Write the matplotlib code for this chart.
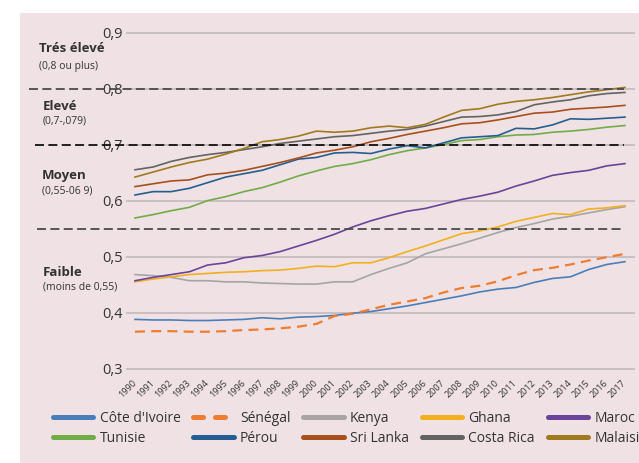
import numpy as np
from matplotlib import pyplot as plt

plt.rcParams['font.family'] = ['Open Sans', 'DejaVu Sans']

years = list(range(1990, 2018))

cote_ivoire = [0.388, 0.387, 0.387, 0.386, 0.386, 0.387, 0.388, 0.391, 0.389, 0.392,
               0.393, 0.395, 0.399, 0.402, 0.407, 0.412, 0.418, 0.424, 0.430, 0.437,
               0.442, 0.445, 0.454, 0.461, 0.464, 0.477, 0.486, 0.491]
senegal = [0.366, 0.367, 0.367, 0.366, 0.366, 0.367, 0.369, 0.370, 0.372, 0.375,
           0.380, 0.394, 0.398, 0.406, 0.414, 0.420, 0.426, 0.436, 0.444, 0.448,
           0.456, 0.467, 0.476, 0.480, 0.486, 0.493, 0.499, 0.505]
kenya = [0.468, 0.466, 0.463, 0.457, 0.457, 0.455, 0.455, 0.453, 0.452, 0.451,
         0.451, 0.455, 0.455, 0.468, 0.479, 0.489, 0.505, 0.514, 0.523, 0.533,
         0.543, 0.552, 0.559, 0.567, 0.572, 0.578, 0.584, 0.589]
ghana = [0.455, 0.460, 0.464, 0.468, 0.470, 0.472, 0.473, 0.475, 0.476, 0.479,
         0.483, 0.482, 0.489, 0.489, 0.498, 0.509, 0.519, 0.530, 0.541, 0.546,
         0.553, 0.563, 0.570, 0.577, 0.575, 0.585, 0.587, 0.591]
maroc = [0.457, 0.463, 0.468, 0.473, 0.485, 0.489, 0.498, 0.502, 0.509, 0.519,
         0.529, 0.540, 0.553, 0.564, 0.573, 0.581, 0.586, 0.594, 0.602, 0.608,
         0.615, 0.626, 0.635, 0.645, 0.650, 0.654, 0.662, 0.666]
tunisie = [0.569, 0.575, 0.582, 0.588, 0.600, 0.607, 0.616, 0.623, 0.633, 0.644,
           0.653, 0.661, 0.666, 0.673, 0.682, 0.689, 0.694, 0.700, 0.707, 0.709,
           0.714, 0.717, 0.718, 0.722, 0.724, 0.727, 0.731, 0.734]
perou = [0.610, 0.616, 0.616, 0.622, 0.632, 0.642, 0.648, 0.654, 0.664, 0.674,
         0.677, 0.685, 0.686, 0.684, 0.692, 0.698, 0.694, 0.703, 0.712, 0.714,
         0.716, 0.729, 0.728, 0.735, 0.746, 0.745, 0.747, 0.749]
sri_lanka = [0.625, 0.630, 0.635, 0.637, 0.646, 0.649, 0.654, 0.661, 0.668, 0.676,
             0.685, 0.690, 0.696, 0.705, 0.711, 0.718, 0.724, 0.730, 0.737, 0.739,
             0.744, 0.750, 0.756, 0.758, 0.763, 0.765, 0.767, 0.770]
costa_rica = [0.655, 0.660, 0.670, 0.677, 0.682, 0.686, 0.691, 0.696, 0.702, 0.706,
              0.710, 0.714, 0.716, 0.720, 0.724, 0.727, 0.733, 0.741, 0.749, 0.750,
              0.753, 0.759, 0.771, 0.776, 0.780, 0.787, 0.791, 0.793]
malaisie = [0.642, 0.651, 0.660, 0.668, 0.674, 0.683, 0.693, 0.705, 0.709, 0.715,
            0.724, 0.722, 0.724, 0.730, 0.733, 0.730, 0.736, 0.749, 0.761, 0.764,
            0.772, 0.777, 0.780, 0.784, 0.789, 0.794, 0.798, 0.802]

names = ["Côte d'Ivoire", "Sénégal", "Kenya", "Ghana", "Maroc",
         "Tunisie", "Pérou", "Sri Lanka", "Costa Rica", "Malaisie"]
series = [cote_ivoire, senegal, kenya, ghana, maroc,
          tunisie, perou, sri_lanka, costa_rica, malaisie]
colors = ["#4a7ebb", "#ed7d31", "#a5a5a5", "#f2b01e", "#6a449a",
          "#70ad47", "#255e91", "#a8501c", "#636363", "#a07a1e"]

y_ticks = [0.3, 0.4, 0.5, 0.6, 0.7, 0.8, 0.9]
y_ticklabels = ["0,3", "0,4", "0,5", "0,6", "0,7", "0,8", "0,9"]
thresholds = [0.8, 0.7, 0.55]
bands = [("Trés élevé", "(0,8 ou plus)"), ("Elevé", "(0,7-,079)"),
         ("Moyen", "(0,55-06 9)"), ("Faible", "(moins de 0,55)")]

W, H = 639, 463
bg = "#f0e2e4"
txt = "#333333"

fig = plt.figure(figsize=(W / 100, H / 100), dpi=100)
fig.patch.set_facecolor("white")
# pink panel
fig.patches.append(plt.Rectangle((20 / W, 0), 1, 1 - 13 / H, transform=fig.transFigure,
                                 facecolor=bg, edgecolor="none", zorder=-1))

ax = fig.add_axes([127 / W, 1 - 368.7 / H, (634 - 127) / W, (368.7 - 32.5) / H])
ax.set_zorder(1)
ax.set_facecolor("none")
for s in ax.spines.values():
    s.set_visible(False)
ax.set_xlim(1989.56, 2017.5)
ax.set_ylim(0.3, 0.9)

for v in y_ticks:
    ax.axhline(v, color="#c9c0c1", lw=1.4, zorder=1, clip_on=False)

lines = []
for name, vals, c in zip(names, series, colors):
    if name == "Sénégal":
        ln, = ax.plot(years, vals, color=c, lw=1.6, dashes=(4.5, 2.8), label=name, zorder=3)
    else:
        ln, = ax.plot(years, vals, color=c, lw=1.2, label=name, zorder=3)
    lines.append(ln)

# threshold dashed lines
x0 = {0.8: 29, 0.7: 35, 0.55: 37}
for t in thresholds:
    xmin = (x0[t] - 127) / (634 - 127)
    xmax = (624 - 127) / (634 - 127)
    col = "#111111" if t == 0.7 else "#4a4a4a"
    ax.axhline(t, xmin=xmin, xmax=xmax, color=col, lw=1.3, dashes=(5, 2.4),
               clip_on=False, zorder=4)

ax.set_yticks(y_ticks)
ax.set_yticklabels(y_ticklabels, fontsize=10.5, color=txt)
ax.set_xticks(years)
ax.set_xticklabels([str(y) for y in years], rotation=45, ha="right", va="center",
                   rotation_mode="anchor", fontsize=6.5, color=txt)
ax.tick_params(axis="y", length=0, pad=3)
ax.tick_params(axis="x", length=0, pad=9)

# band labels on the left
title_y = [48, 107, 175, 273]
sub_y = [66, 121, 191, 287]
lab_x = [39, 43, 42, 43]
for (t, s), ty, sy, lx in zip(bands, title_y, sub_y, lab_x):
    fig.text(lx / W, 1 - ty / H, t, fontsize=9.5, fontweight="bold", color=txt,
             ha="left", va="center")
    fig.text(lx / W, 1 - sy / H, s, fontsize=7.5, color=txt, ha="left", va="center")

# legend, filled column by column
order = [0, 5, 1, 6, 2, 7, 3, 8, 4, 9]
handles = [lines[i] for i in order]
labels = [names[i] for i in order]
leg = fig.legend(handles, labels, ncol=5, loc="upper left",
                 bbox_to_anchor=(53 / W, 1 - 411 / H), frameon=False,
                 fontsize=10, handlelength=2.9, handletextpad=0.45,
                 columnspacing=0.93, labelspacing=0.38, borderpad=0, borderaxespad=0)
for lh, name in zip(leg.get_lines(), labels):
    lh.set_linewidth(3.6)
    lh.set_solid_capstyle("round")
    lh.set_dash_capstyle("round")
    if name == "Sénégal":
        lh.set_dashes((2.0, 2.4))
for t in leg.get_texts():
    t.set_color(txt)

fig.savefig("out.png", dpi=100, facecolor="white")
